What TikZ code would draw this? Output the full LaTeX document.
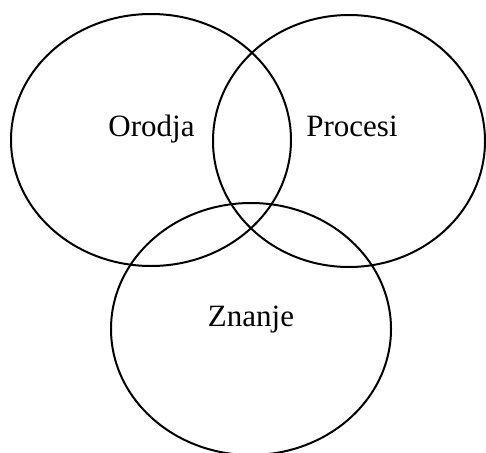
\documentclass[tikz,border=0pt]{standalone}
\usepackage{fontspec}
\setmainfont{Liberation Serif}
\usepackage{tikz}
\usetikzlibrary{shapes.geometric}

\begin{document}
\begin{tikzpicture}[x=1pt, y=-1pt, line width=2pt,
    set/.style={draw, ellipse, inner sep=0pt, outer sep=0pt},
    setlabel/.style={anchor=base, inner sep=0pt, font=\fontsize{31}{36}\selectfont}]
    \useasboundingbox (0,0) rectangle (486,452);

    \node[set, minimum width=280pt, minimum height=252pt] (orodja) at (151,140) {};
    \node[set, minimum width=272pt, minimum height=252pt] (procesi) at (349,141) {};
    \node[set, minimum width=280pt, minimum height=252pt] (znanje) at (251,329) {};

    \node[setlabel] (orodjaText) at (151.5,136) {Orodja};
    \node[setlabel] (procesiText) at (352,136) {Procesi};
    \node[setlabel] (znanjeText) at (251,326) {Znanje};
\end{tikzpicture}
\end{document}
